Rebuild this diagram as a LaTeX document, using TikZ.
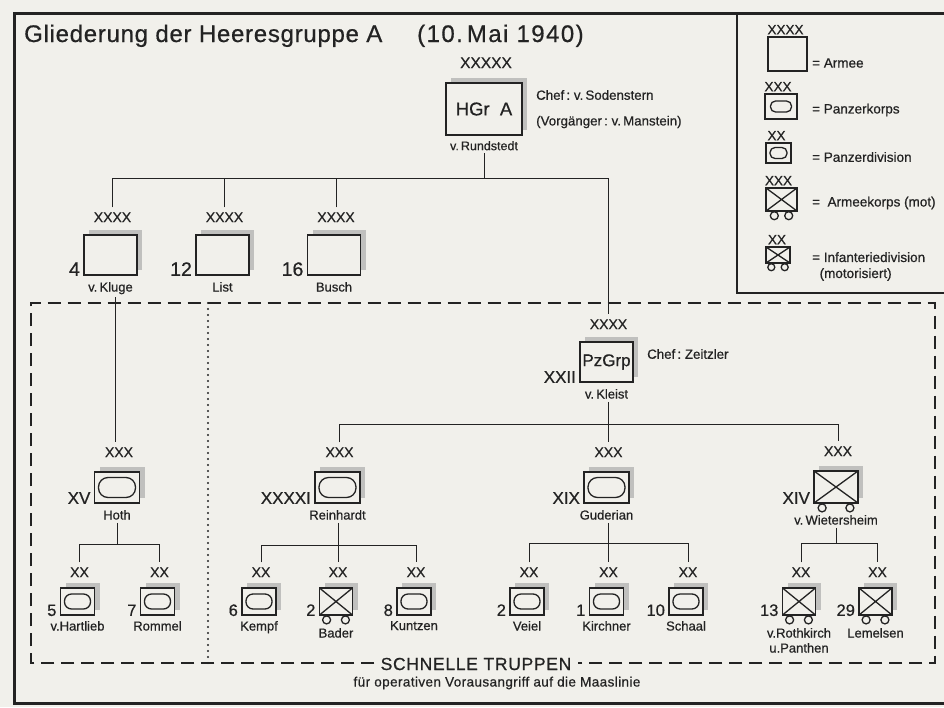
\documentclass[tikz,border=0pt]{standalone}
\usepackage{fontspec}
\setmainfont{Liberation Sans}[FakeBold=0.6]
\usetikzlibrary{shadows,calc}
\definecolor{bgc}{RGB}{241,240,235}
\definecolor{ink}{RGB}{35,35,35}
\definecolor{shc}{RGB}{192,192,190}
\tikzset{
  ubox/.style={draw=ink, line width=1.8pt, fill=bgc, inner sep=0pt, text=ink,
    general shadow={fill=shc, shadow xshift=5pt, shadow yshift=5pt}},
  legbox/.style={draw=ink, line width=1.4pt, fill=bgc, inner sep=0pt},
  oval/.style n args={3}{path picture={\draw[line width=1.3pt,draw=ink,rounded corners=#3]
      ([shift={(-#1,-#2)}]path picture bounding box.center) rectangle
      ([shift={(#1,#2)}]path picture bounding box.center);}},
  xcross/.style={path picture={\draw[line width=1.3pt,draw=ink]
      (path picture bounding box.north west) -- (path picture bounding box.south east)
      (path picture bounding box.north east) -- (path picture bounding box.south west);}},
  armee/.style={ubox, minimum width=53pt, minimum height=40pt},
  korps/.style={ubox, minimum width=45pt, minimum height=31pt, oval={18.5pt}{10pt}{9.5pt}},
  pzdiv/.style={ubox, minimum width=34pt, minimum height=27pt, oval={13pt}{7.5pt}{7pt}},
  motkorps/.style={ubox, minimum width=44pt, minimum height=32pt, xcross},
  motdiv/.style={ubox, minimum width=33pt, minimum height=27pt, xcross},
  ech/.style={font=\fontsize{14}{14}\selectfont, inner sep=0pt, anchor=base, text=ink},
  lech/.style={font=\fontsize{13.5}{14}\selectfont, inner sep=0pt, anchor=base, text=ink},
  anum/.style={font=\fontsize{19.5}{20}\selectfont, inner sep=0pt, anchor=base east, text=ink},
  num/.style={font=\fontsize{17}{17}\selectfont, inner sep=0pt, anchor=base east, text=ink},
  dnum/.style={font=\fontsize{16.5}{16}\selectfont, inner sep=0pt, anchor=base east, text=ink},
  lab/.style={font=\fontsize{13}{15}\selectfont, inner sep=0pt, anchor=north, text=ink, align=center},
  chef/.style={font=\fontsize{13.3}{14}\selectfont, inner sep=0pt, anchor=west, text=ink},
  legtxt/.style={font=\fontsize{13.5}{16}\selectfont, inner sep=0pt, anchor=west, text=ink, align=left},
  conn/.style={draw=ink, line width=1pt},
  dframe/.style={draw=ink, line width=2.7pt, dash pattern=on 13pt off 7pt},
  dotv/.style={draw=ink, line width=2.4pt, dash pattern=on 0pt off 6pt, line cap=round},
}
\newcommand\Unit[9]{%
  \node[#2] (#1) at (#3) {};
  \node[ech] (#1e) at ([xshift=2pt,yshift=#5]#1.north) {#4};
  \node[#9] (#1n) at ([xshift=-3pt]#1.south west) {#6};
  \node[lab] (#1l) at ([yshift=#8]#1.south) {#7};}
\newcommand\Wheels[3]{\draw[draw=ink, line width=1.3pt, fill=bgc]
  ([shift={(#2,-#3)}]#1.south west) circle (#3)
  ([shift={(-#2,-#3)}]#1.south east) circle (#3);}
\begin{document}
\begin{tikzpicture}[x=1pt,y=-1pt]
\useasboundingbox (0,0) rectangle (944,707);
\fill[bgc] (0,0) rectangle (944,707);
% frames
\draw[draw=ink, line width=3pt] (14.5,13) rectangle (975,703);
\draw[draw=ink, line width=2pt] (737,13) -- (737,293) -- (975,293);
% title
\node[anchor=base west, inner sep=0pt, text=ink, font=\fontsize{24}{24}\selectfont\addfontfeature{LetterSpace=3}] (title) at (24,42) {Gliederung der Heeresgruppe A};
\node[anchor=base west, inner sep=0pt, text=ink, font=\fontsize{24}{24}\selectfont\addfontfeature{LetterSpace=6}] (date) at (417,42) {(10.\,Mai 1940)};
% legend
\node[legbox, minimum width=39pt, minimum height=34pt] (L1) at (787.5,54) {};
\node[lech] (L1e) at ([xshift=-2pt,yshift=2pt]L1.north) {XXXX};
\node[legtxt] (L1t) at (812,63) {=\ Armee};
\node[legbox, minimum width=32pt, minimum height=25pt, oval={10.5pt}{5.5pt}{5pt}] (L2) at (781,106.5) {};
\node[lech] (L2e) at ([xshift=-3pt,yshift=2pt]L2.north) {XXX};
\node[legtxt] (L2t) at (812,110) {=\ Panzerkorps};
\node[legbox, minimum width=25pt, minimum height=20pt, oval={8.5pt}{5.5pt}{5pt}] (L3) at (778.5,153) {};
\node[lech] (L3e) at ([xshift=-2pt,yshift=2pt]L3.north) {XX};
\node[legtxt] (L3t) at (812,157) {=\ Panzerdivision};
\node[legbox, minimum width=31pt, minimum height=23pt, xcross] (L4) at (781.5,199.5) {};
\Wheels{L4}{9pt}{4pt}
\node[lech] (L4e) at ([xshift=-3pt,yshift=2pt]L4.north) {XXX};
\node[legtxt] (L4t) at (812,203) {=\ \ Armeekorps (mot)};
\node[legbox, minimum width=24pt, minimum height=16pt, xcross] (L5) at (778,255) {};
\Wheels{L5}{6pt}{3.5pt}
\node[lech] (L5e) at ([xshift=-1pt,yshift=2pt]L5.north) {XX};
\node[legtxt, anchor=north west] (L5t) at (812,252) {=\ Infanteriedivision\\\hspace*{0.55em}(motorisiert)};
% HGr A
\node[ubox, minimum width=76pt, minimum height=52pt, font=\fontsize{18.5}{18}\selectfont] (hgr) at (484,109) {HGr\ \ A};
\node[ech, font=\fontsize{15.5}{15}\selectfont] (hgre) at ([xshift=2pt,yshift=14pt]hgr.north) {XXXXX};
\node[lab, font=\fontsize{12.5}{14}\selectfont] (hgrl) at ([yshift=-5pt]hgr.south) {v.\,Rundstedt};
\node[chef] (hgrc1) at (536,95) {Chef\,:\ v.\,Sodenstern};
\node[chef] (hgrc2) at (536,122) {(Vorgänger\,:\ v.\,Manstein)};
% armies
\Unit{a4}{armee}{110.5,255}{XXXX}{12pt}{4}{v.\,Kluge}{-6pt}{anum}
\Unit{a12}{armee}{222.5,255}{XXXX}{12pt}{12}{List}{-6pt}{anum}
\Unit{a16}{armee}{334,255}{XXXX}{12pt}{16}{Busch}{-6pt}{anum}
% Panzergruppe
\node[ubox, minimum width=53pt, minimum height=40pt, font=\fontsize{17}{17}\selectfont] (pz) at (606.5,362) {PzGrp};
\node[ech] (pze) at ([xshift=2pt,yshift=12pt]pz.north) {XXXX};
\node[num] (pzn) at ([xshift=-3pt]pz.south west) {XXII};
\node[lab] (pzl) at ([yshift=-6pt]pz.south) {v.\,Kleist};
\node[chef] (pzc) at (647,354) {Chef\,:\ Zeitzler};
% corps
\Unit{hoth}{korps}{117,487.5}{XXX}{14pt}{XV}{Hoth}{-6pt}{num}
\Unit{rein}{korps}{337.5,487.5}{XXX}{14pt}{XXXXI}{Reinhardt}{-6pt}{num}
\Unit{gud}{korps}{606.5,487.5}{XXX}{14pt}{XIX}{Guderian}{-6pt}{num}
\Unit{wie}{motkorps}{836,487}{XXX}{14pt}{XIV}{v.\,Wietersheim}{-11pt}{num}
\Wheels{wie}{9pt}{4pt}
% divisions
\Unit{d5}{pzdiv}{77.5,601.5}{XX}{10pt}{5}{v.Hartlieb}{-5pt}{dnum}
\Unit{d7}{pzdiv}{157.5,601.5}{XX}{10pt}{7}{Rommel}{-5pt}{dnum}
\Unit{d6}{pzdiv}{259,601.5}{XX}{10pt}{6}{Kempf}{-5pt}{dnum}
\Unit{d2b}{motdiv}{336,601.5}{XX}{10pt}{2}{Bader}{-12pt}{dnum}
\Wheels{d2b}{8pt}{4pt}
\Unit{d8}{pzdiv}{414,601.5}{XX}{10pt}{8}{Kuntzen}{-5pt}{dnum}
\Unit{d2v}{pzdiv}{527,601.5}{XX}{10pt}{2}{Veiel}{-5pt}{dnum}
\Unit{d1}{pzdiv}{606.5,601.5}{XX}{10pt}{1}{Kirchner}{-5pt}{dnum}
\Unit{d10}{pzdiv}{686,601.5}{XX}{10pt}{10}{Schaal}{-5pt}{dnum}
\Unit{d13}{motdiv}{799,601.5}{XX}{10pt}{13}{v.Rothkirch\\u.Panthen}{-12pt}{dnum}
\Wheels{d13}{8pt}{4pt}
\Unit{d29}{motdiv}{875.5,601.5}{XX}{10pt}{29}{Lemelsen}{-12pt}{dnum}
\Wheels{d29}{8pt}{4pt}
% bus levels
\coordinate (b0) at (486,178);
\coordinate (b1) at (608,424);
\coordinate (b2) at (118,544);
\coordinate (b3) at (337,545);
\coordinate (b4) at (607,543);
\coordinate (b5) at (836,543);
% connectors
\draw[conn] ([yshift=-3pt]hgrl.south) -- (hgrl.south |- b0);
\draw[conn] ([yshift=5pt]a4e.north) -- (a4e.north |- b0) -- (pze.north |- b0) -- ([yshift=5pt]pze.north);
\draw[conn] ([yshift=5pt]a12e.north) -- (a12e.north |- b0);
\draw[conn] ([yshift=5pt]a16e.north) -- (a16e.north |- b0);
\draw[conn] ([xshift=5pt,yshift=-3pt]a4l.south) -- ([xshift=5pt,yshift=5pt]a4l.south |- hothe.north);
\draw[conn] ([yshift=-3pt]pzl.south -| gude.north) -- ([yshift=5pt]gude.north);
\draw[conn] ([yshift=5pt]reine.north) -- (reine.north |- b1) -- (wiee.north |- b1) -- ([yshift=5pt]wiee.north);
\draw[conn] ([yshift=-3pt]hothl.south) -- (hothl.south |- b2);
\draw[conn] ([yshift=5pt]d5e.north) -- (d5e.north |- b2) -- (d7e.north |- b2) -- ([yshift=5pt]d7e.north);
\draw[conn] ([yshift=-3pt]reinl.south -| d2be.north) -- ([yshift=5pt]d2be.north);
\draw[conn] ([yshift=5pt]d6e.north) -- (d6e.north |- b3) -- (d8e.north |- b3) -- ([yshift=5pt]d8e.north);
\draw[conn] ([yshift=-3pt]gudl.south -| d1e.north) -- ([yshift=5pt]d1e.north);
\draw[conn] ([yshift=5pt]d2ve.north) -- (d2ve.north |- b4) -- (d10e.north |- b4) -- ([yshift=5pt]d10e.north);
\draw[conn] ([yshift=-3pt]wiel.south) -- (wiel.south |- b5);
\draw[conn] ([yshift=5pt]d13e.north) -- (d13e.north |- b5) -- (d29e.north |- b5) -- ([yshift=5pt]d29e.north);
% Schnelle Truppen frame
\node[font=\fontsize{17.5}{18}\selectfont\addfontfeature{LetterSpace=4}, inner sep=6pt, text=ink] (st) at (476,664) {SCHNELLE TRUPPEN};
\node[font=\fontsize{13.5}{14}\selectfont\addfontfeature{LetterSpace=3}, inner sep=0pt, text=ink] (sub) at (497,683) {für operativen Vorausangriff auf die Maaslinie};
\coordinate (fA) at (31,663);
\coordinate (fB) at (31,303);
\coordinate (fC) at (935,303);
\coordinate (fD) at (935,663);
\coordinate (fE) at (208,303);
\coordinate (fF) at (208,663);
\draw[dframe] (st.west |- fA) -- (fA) -- (fB) -- (fC) -- (fD) -- (st.east |- fD);
\draw[dotv] (fE) -- (fF);
\end{tikzpicture}
\end{document}
